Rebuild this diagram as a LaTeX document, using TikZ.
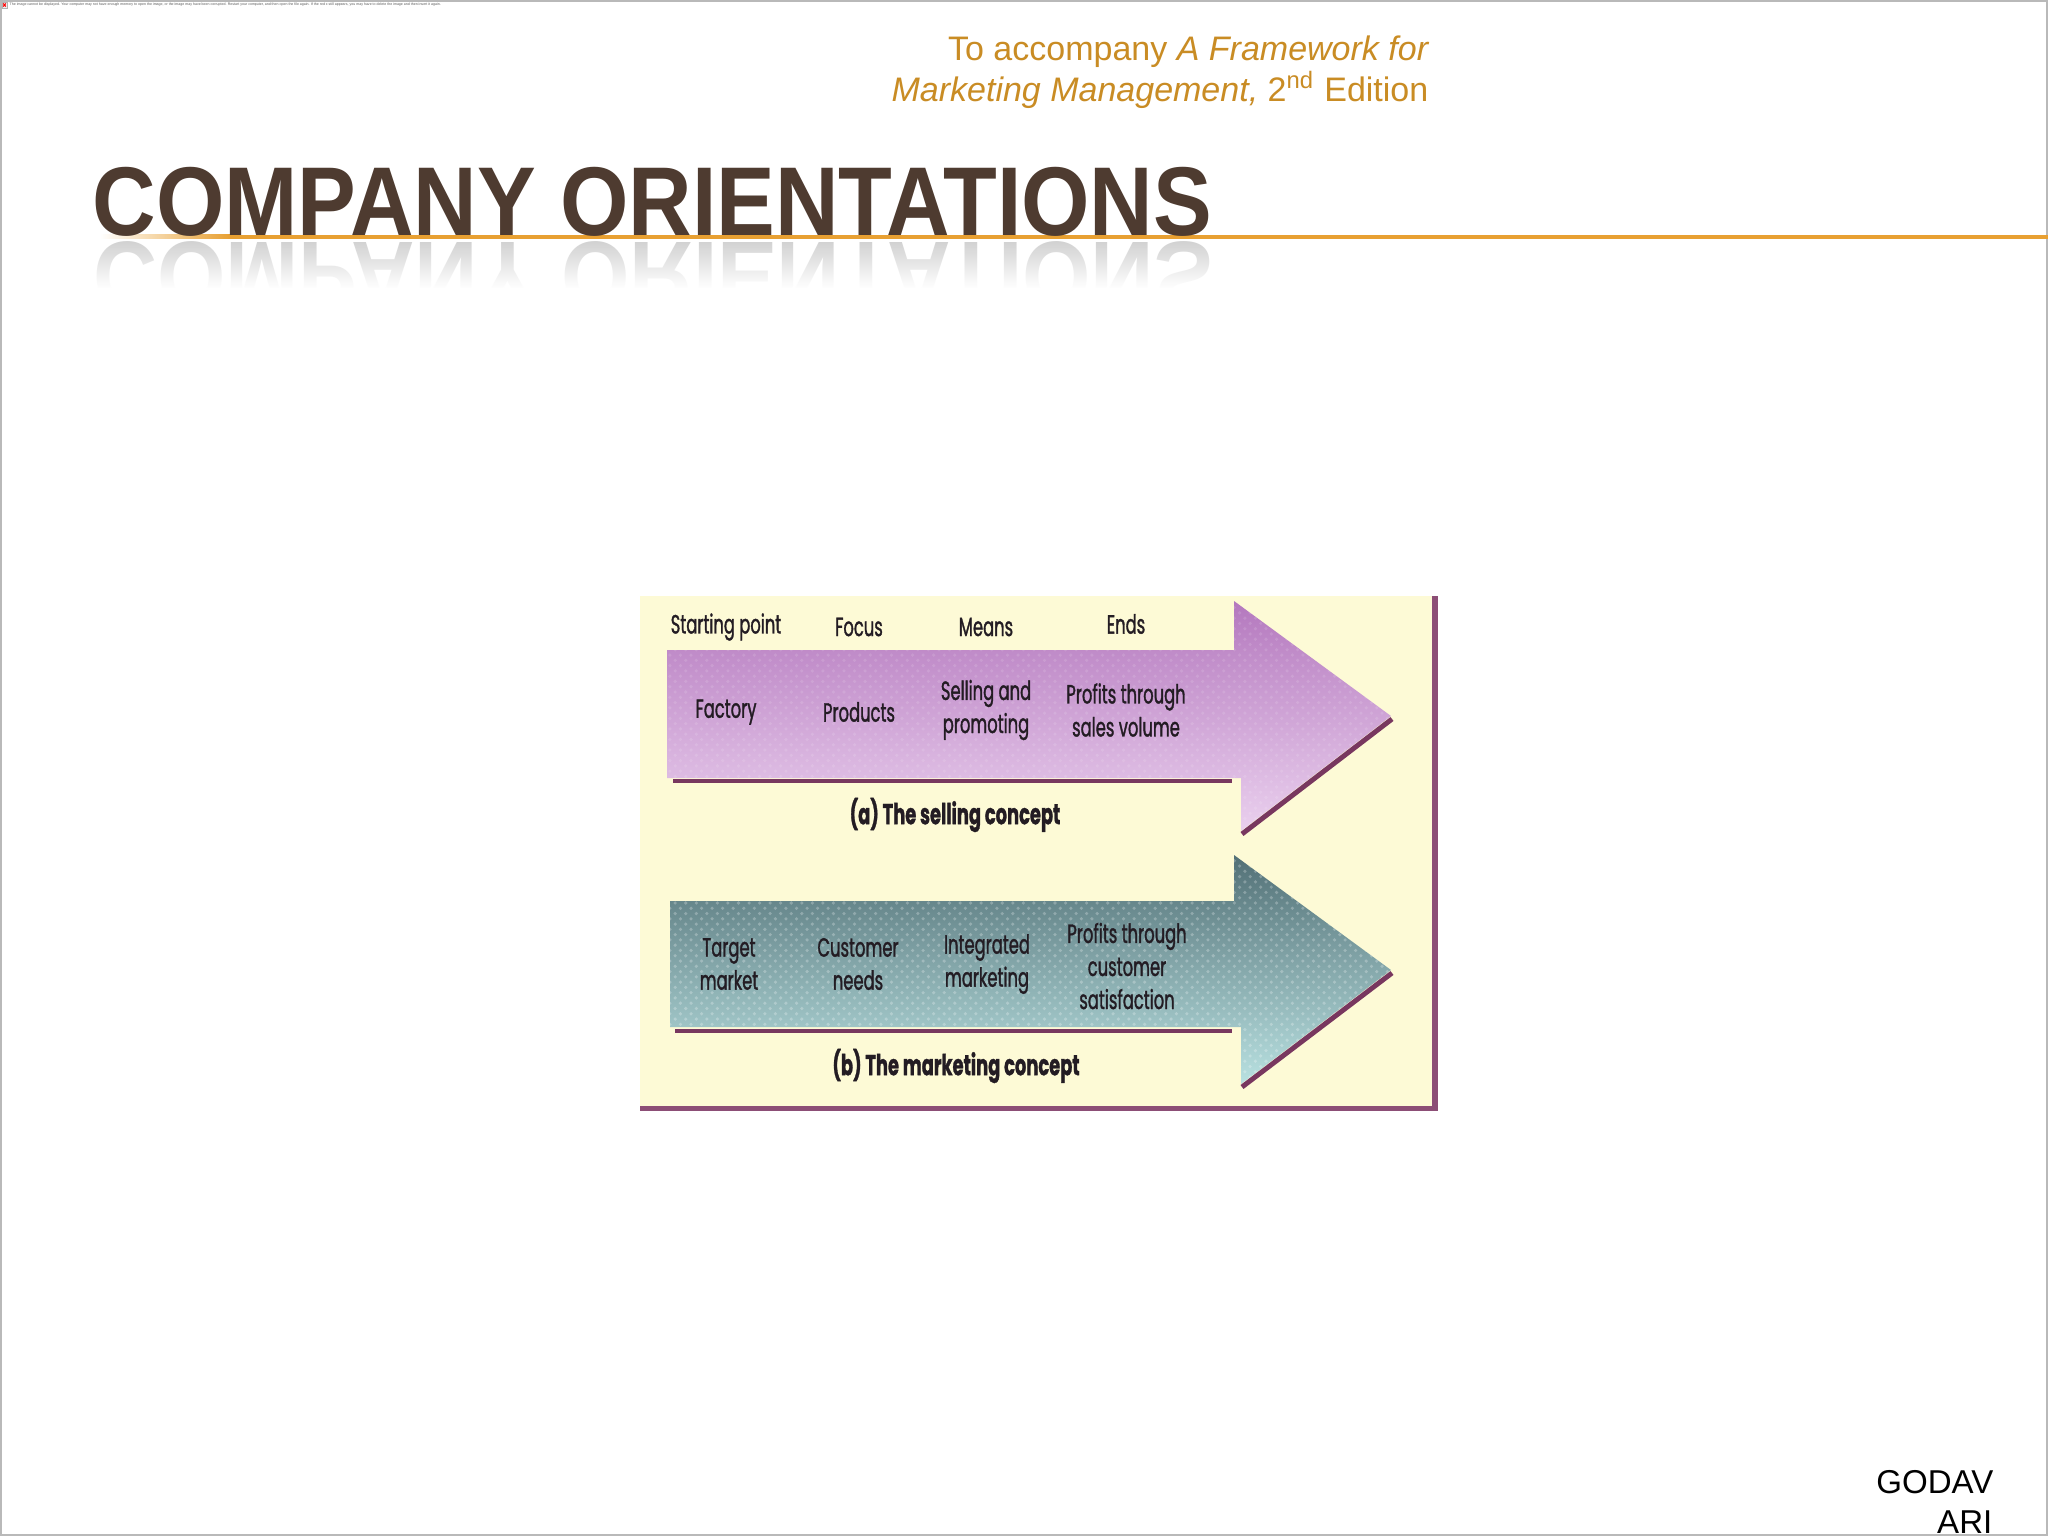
\documentclass[tikz,border=0pt]{standalone}
\usepackage{fontspec}
\setmainfont{Liberation Sans}
\newfontfamily\titlefont[FakeStretch=0.90]{Liberation Sans}
\newfontfamily\diagfont[FakeStretch=0.62, FakeBold=1.2]{Poppins}
\newfontfamily\diagbold[FakeStretch=0.62, FakeBold=1.0]{Poppins}
\usetikzlibrary{fadings,patterns}
\definecolor{titlebrown}{RGB}{78,59,48}
\definecolor{subgold}{RGB}{201,140,36}
\definecolor{lineorange}{RGB}{232,160,50}
\definecolor{bgyellow}{RGB}{253,250,214}
\definecolor{frameplum}{RGB}{140,78,118}
\definecolor{shadowplum}{RGB}{120,55,95}
\definecolor{purpletop}{RGB}{180,120,190}
\definecolor{purplebot}{RGB}{234,208,238}
\definecolor{tealtop}{RGB}{82,112,118}
\definecolor{tealbot}{RGB}{185,225,225}
\definecolor{inktext}{RGB}{35,28,35}
\definecolor{reflgray}{RGB}{190,190,190}
\tikzfading[name=reflectfade, top color=transparent!75, bottom color=transparent!0]
\tikzset{
  subtitle/.style={font=\fontsize{9.67pt}{11.5pt}\selectfont, text=subgold, inner sep=0pt},
  titletext/.style={font=\titlefont\bfseries\fontsize{27.8pt}{30pt}\selectfont, inner sep=0pt},
  authortext/.style={font=\fontsize{9.4pt}{11.4pt}\selectfont, text=black, inner sep=0pt},
  lab/.style={font=\diagfont\fontsize{7.5pt}{9.4pt}\selectfont, text=inktext, align=center, inner sep=0pt},
  captiontext/.style={font=\diagbold\bfseries\fontsize{8.2pt}{10pt}\selectfont, text=inktext, inner sep=0pt},
  shadowline/.style={shadowplum, line width=1.4pt},
}
\begin{document}
\begin{tikzpicture}[x=0.01cm, y=-0.01cm]
\useasboundingbox (0,0) rectangle (2048,1536);
\fill[white] (0,0) rectangle (2048,1536);
\draw[gray!55, line width=0.6pt] (1,1) rectangle (2047,1535);

% tiny error message
\draw[gray!60, fill=gray!15, line width=0.2pt] (2,2) rectangle (7,8);
\draw[red, line width=0.3pt] (3.2,3.5) -- (5.8,6.5) (3.2,6.5) -- (5.8,3.5);
\node[anchor=west, inner sep=0pt, text=gray!70!black] (errmsg) at (9,5)
  {\resizebox{4.31cm}{!}{The image cannot be displayed. Your computer may not have enough memory to open the image, or the image may have been corrupted. Restart your computer, and then open the file again. If the red x still appears, you may have to delete the image and then insert it again.}};

% subtitle
\node[subtitle, anchor=base east] (sub1) at (1430,60) {To accompany \textit{A Framework for}};
\node[subtitle, anchor=base east] (sub2) at (1429,101) {\textit{Marketing Management,} 2\textsuperscript{nd} Edition};

% title reflection
\node[titletext, text=reflgray, anchor=base west] (refl) at (93,242) {\scalebox{1}[-1]{COMPANY ORIENTATIONS}};
\fill[white, path fading=reflectfade] (60,238) rectangle (1260,288);
\fill[white] (60,288) rectangle (1260,320);

% orange rule
\shade[left color=white, right color=lineorange] (100,234.5) rectangle (230,238.5);
\fill[lineorange] (230,234.5) rectangle (2048,238.5);

% title
\node[titletext, text=titlebrown, anchor=base west] (title) at (92,235) {COMPANY ORIENTATIONS};

% diagram background and frame
\fill[bgyellow] (640,596) rectangle (1436,1107);
\draw[frameplum, line width=1.5pt] (1435,596) -- (1435,1108.5) -- (640,1108.5);

% selling arrow
\coordinate (a1) at (667,650);
\coordinate (a2) at (1234,650);
\coordinate (a3) at (1234,601);
\coordinate (a4) at (1391,716);
\coordinate (a5) at (1241,831);
\coordinate (a6) at (1241,778);
\coordinate (a7) at (667,778);
\shade[top color=purpletop, bottom color=purplebot] (a1) -- (a2) -- (a3) -- (a4) -- (a5) -- (a6) -- (a7) -- cycle;
\fill[pattern=crosshatch dots, pattern color=white, opacity=0.12] (a1) -- (a2) -- (a3) -- (a4) -- (a5) -- (a6) -- (a7) -- cycle;
\draw[shadowline] (673,781) -- (1232,781);
\draw[shadowline] (1242,834) -- (1392,719);

% marketing arrow
\coordinate (b1) at (670,901);
\coordinate (b2) at (1234,901);
\coordinate (b3) at (1234,855);
\coordinate (b4) at (1391,970);
\coordinate (b5) at (1241,1084);
\coordinate (b6) at (1241,1027);
\coordinate (b7) at (670,1027);
\shade[top color=tealtop, bottom color=tealbot] (b1) -- (b2) -- (b3) -- (b4) -- (b5) -- (b6) -- (b7) -- cycle;
\fill[pattern=crosshatch dots, pattern color=white, opacity=0.25] (b1) -- (b2) -- (b3) -- (b4) -- (b5) -- (b6) -- (b7) -- cycle;
\draw[shadowline] (675,1031) -- (1232,1031);
\draw[shadowline] (1242,1087) -- (1392,973);

% column headings
\node[lab] (h1) at (726,627) {Starting point};
\node[lab] (h2) at (859,627) {Focus};
\node[lab] (h3) at (986,627) {Means};
\node[lab] (h4) at (1126,624) {Ends};

% selling concept
\node[lab] (s1) at (726,712) {Factory};
\node[lab] (s2) at (859,712) {Products};
\node[lab] (s3) at (986,710) {Selling and\\promoting};
\node[lab] (s4) at (1126,710) {Profits through\\sales volume};
\node[captiontext] (capa) at (955,815) {(a) The selling concept};

% marketing concept
\node[lab] (m1) at (729,964) {Target\\market};
\node[lab] (m2) at (858,964) {Customer\\needs};
\node[lab] (m3) at (987,964) {Integrated\\marketing};
\node[lab] (m4) at (1127,966) {Profits through\\customer\\satisfaction};
\node[captiontext] (capb) at (956,1066) {(b) The marketing concept};

% author
\node[authortext, anchor=base east] (auth1) at (1994,1493) {GODAV};
\node[authortext, anchor=base east] (auth2) at (1993,1533) {ARI};
\end{tikzpicture}
\end{document}
